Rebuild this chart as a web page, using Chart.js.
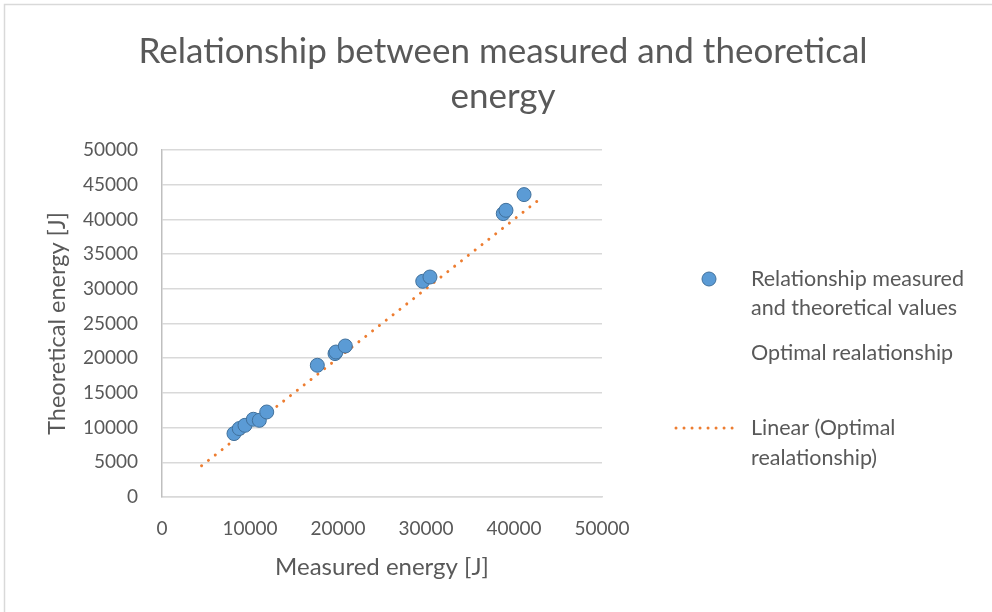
<!DOCTYPE html>
<html>
<head>
<meta charset="utf-8">
<script src="https://cdn.jsdelivr.net/npm/chart.js@4"></script>
<style>
  html, body { margin: 0; padding: 0; background: #fff; }
  #wrap { position: relative; width: 992px; height: 612px; }
</style>
</head>
<body>
<div id="wrap"><canvas id="energyChart" width="992" height="612"></canvas></div>
<script>
// --- DATI ---
const measured    = [8180, 8780, 9430, 10380, 11060, 11900, 17650, 19660, 19770, 20830, 29630, 30450, 38780, 39090, 41140];
const theoretical = [9140, 9860, 10330, 11200, 11050, 12250, 18980, 20660, 20890, 21760, 31080, 31700, 40840, 41310, 43570];
const optimalX = [4500, 43000];   // retta y = x (tendenza)
const optimalY = [4500, 43000];
const axisTicks = [0, 5000, 10000, 15000, 20000, 25000, 30000, 35000, 40000, 45000, 50000];
const xTicks = [0, 10000, 20000, 30000, 40000, 50000];

const titleLines = ['Relationship between measured and theoretical', 'energy'];
const legendLines = {
    points: ['Relationship measured', 'and theoretical values'],
    optimal: ['Optimal realationship'],
    linear: ['Linear (Optimal', 'realationship)']
};

const FONT = 'Lato, "Open Sans", sans-serif';
const TXT = '#595959';
const BLUE = '#5b9bd5';
const BLUE_EDGE = '#41719c';
const ORANGE = '#ed7d31';

// --- TITOLO, LEGENDA E BORDO DISEGNATI A MANO ---
const decorPlugin = {
    id: 'decor',
    afterDraw(chart) {
        const c = chart.ctx;
        c.save();
        // bordo esterno
        c.strokeStyle = '#d9d9d9';
        c.lineWidth = 1.5;
        c.strokeRect(4.5, 4.5, 1000, 620);

        // titolo
        c.fillStyle = TXT;
        c.textAlign = 'center';
        c.textBaseline = 'middle';
        c.font = '35px ' + FONT;
        c.fillText(titleLines[0], 503, 52);
        c.fillText(titleLines[1], 503, 97);

        // legenda
        c.textAlign = 'left';
        c.font = '21.5px ' + FONT;
        c.beginPath();
        c.arc(709, 279, 7, 0, Math.PI * 2);
        c.fillStyle = BLUE;
        c.fill();
        c.strokeStyle = BLUE_EDGE;
        c.lineWidth = 1;
        c.stroke();

        c.fillStyle = TXT;
        c.fillText(legendLines.points[0], 751, 279);
        c.fillText(legendLines.points[1], 751, 308);
        c.fillText(legendLines.optimal[0], 751, 353);
        c.fillText(legendLines.linear[0], 751, 428);
        c.fillText(legendLines.linear[1], 751, 458);

        c.strokeStyle = ORANGE;
        c.lineWidth = 3;
        c.lineCap = 'round';
        c.setLineDash([0.01, 8]);
        c.beginPath();
        c.moveTo(676, 428);
        c.lineTo(738, 428);
        c.stroke();
        c.restore();
    }
};

const ctx = document.getElementById('energyChart').getContext('2d');
const energyChart = new Chart(ctx, {
    type: 'scatter',
    data: {
        datasets: [{
            label: 'Linear (Optimal realationship)',
            data: optimalX.map((x, i) => ({ x: x, y: optimalY[i] })),
            showLine: true,
            borderColor: ORANGE,
            borderWidth: 3,
            borderDash: [0.01, 8.7],
            borderCapStyle: 'round',
            pointRadius: 0,
            fill: false,
            order: 2
        }, {
            label: 'Relationship measured and theoretical values',
            data: measured.map((x, i) => ({ x: x, y: theoretical[i] })),
            backgroundColor: BLUE,
            borderColor: BLUE_EDGE,
            borderWidth: 1,
            pointRadius: 7,
            pointHoverRadius: 7,
            order: 1
        }]
    },
    options: {
        responsive: false,
        animation: false,
        layout: { padding: { left: 0, right: 390, top: 150, bottom: 0 } },
        plugins: {
            legend: { display: false },
            title: { display: false },
            tooltip: { enabled: false }
        },
        scales: {
            x: {
                type: 'linear',
                min: 0, max: 50000,
                afterBuildTicks: (axis) => { axis.ticks = xTicks.map(v => ({ value: v })); },
                afterFit: (axis) => { axis.height = 115; },
                grid: { display: false, drawTicks: false },
                border: { color: '#d9d9d9', width: 1.5 },
                ticks: { color: TXT, font: { family: FONT, size: 19 }, padding: 20, maxRotation: 0, callback: (v) => String(v) },
                title: { display: true, text: 'Measured energy [J]', color: TXT, font: { family: FONT, size: 24 }, padding: { top: 0, bottom: 30 } }
            },
            y: {
                type: 'linear',
                min: 0, max: 50000,
                afterBuildTicks: (axis) => { axis.ticks = axisTicks.map(v => ({ value: v })); },
                afterFit: (axis) => { axis.width = 162; },
                grid: { color: '#d9d9d9', lineWidth: 1.5, drawTicks: false },
                border: { color: '#bfbfbf', width: 1.5 },
                ticks: { color: TXT, font: { family: FONT, size: 19 }, padding: 24, callback: (v) => String(v) },
                title: { display: true, text: 'Theoretical energy [J]', color: TXT, font: { family: FONT, size: 23.5 }, padding: { top: 43, bottom: 0 } }
            }
        }
    },
    plugins: [decorPlugin]
});
</script>
</body>
</html>
